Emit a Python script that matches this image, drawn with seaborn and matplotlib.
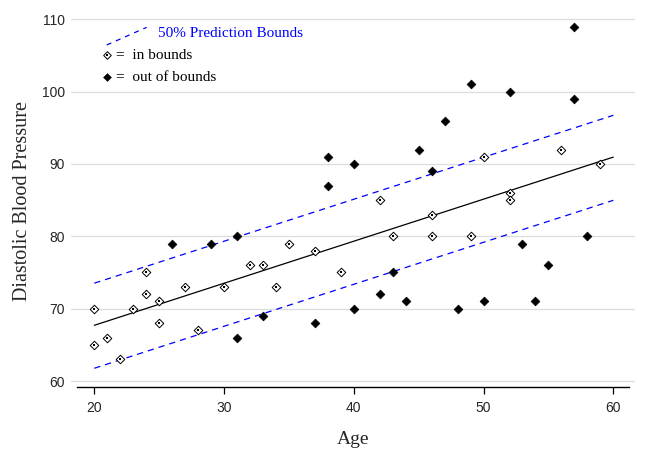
import numpy as np
import pandas as pd
import matplotlib
matplotlib.use("Agg")
import matplotlib.pyplot as plt
import seaborn as sns

# ---- data ----
in_age = [20, 20, 21, 22, 23, 24, 24, 25, 25, 27, 28, 30, 32, 33, 34, 35, 37, 39,
          42, 43, 46, 46, 49, 50, 52, 52, 56, 59]
in_bp = [70, 65, 66, 63, 70, 75, 72, 71, 68, 73, 67, 73, 76, 76, 73, 79, 78, 75,
         85, 80, 80, 83, 80, 91, 86, 85, 92, 90]
out_age = [26, 29, 31, 31, 33, 37, 38, 38, 40, 40, 42, 43, 44, 45, 46, 47, 48, 49,
           50, 52, 53, 54, 55, 57, 57, 58]
out_bp = [79, 79, 80, 66, 69, 68, 91, 87, 90, 70, 72, 75, 71, 92, 89, 96, 70, 101,
          71, 100, 79, 71, 76, 109, 99, 80]
fit_age = [20, 60]
fit_bp = [67.7, 90.95]
upper_bp = [73.52, 96.73]
lower_bp = [61.76, 84.98]
x_ticks = [20, 30, 40, 50, 60]
y_ticks = [60, 70, 80, 90, 100, 110]

sns.set_style("white")
plt.rcParams['font.family'] = ['Liberation Serif', 'DejaVu Serif']

fig = plt.figure(figsize=(6.47, 4.54), dpi=100)
ax = fig.add_axes([71/647, 67/454, 564/647, 372/454])

df_in = pd.DataFrame({"Age": in_age, "BP": in_bp})
df_out = pd.DataFrame({"Age": out_age, "BP": out_bp})
df_fit = pd.DataFrame({"Age": fit_age, "fit": fit_bp, "up": upper_bp, "lo": lower_bp})

# horizontal grid
for yv in y_ticks:
    ax.axhline(yv, color='#dcdcdc', lw=0.9, zorder=0)

sns.lineplot(data=df_fit, x="Age", y="up", ax=ax, color='#0000ff', lw=0.9,
             linestyle=(0, (5, 4)), zorder=2)
sns.lineplot(data=df_fit, x="Age", y="lo", ax=ax, color='#0000ff', lw=0.9,
             linestyle=(0, (5, 4)), zorder=2)
sns.lineplot(data=df_fit, x="Age", y="fit", ax=ax, color='black', lw=0.9, zorder=2)

sns.scatterplot(data=df_in, x="Age", y="BP", ax=ax, marker='D', s=19,
                facecolor='white', edgecolor='black', linewidth=0.7, zorder=3)
sns.scatterplot(data=df_in, x="Age", y="BP", ax=ax, marker='s', s=0.8,
                color='black', linewidth=0, zorder=4)
sns.scatterplot(data=df_out, x="Age", y="BP", ax=ax, marker='D', s=20,
                color='black', edgecolor='black', linewidth=0.5, zorder=3)

ax.set_xlim(18.204, 61.672)
ax.set_ylim(59.171, 110.594)
ax.set_xticks(x_ticks)
ax.set_yticks(y_ticks)
ax.set_xticklabels([str(v) for v in x_ticks])
ax.set_yticklabels([str(v) for v in y_ticks])
for lab in ax.get_xticklabels() + ax.get_yticklabels():
    lab.set_family(['Liberation Sans', 'DejaVu Sans'])
    lab.set_fontsize(10)
ax.tick_params(axis='x', direction='out', length=5, width=0.9, color='black', pad=5,
               bottom=True)
ax.tick_params(axis='y', length=0, pad=4.5)

for side in ['top', 'right', 'left']:
    ax.spines[side].set_visible(False)
ax.spines['bottom'].set_color('black')
ax.spines['bottom'].set_linewidth(1.0)
ax.spines['bottom'].set_bounds(18.667, 61.21)

ax.set_xlabel("Age", fontsize=14)
ax.set_ylabel("Diastolic Blood Pressure", fontsize=14.5)
ax.xaxis.set_label_coords(0.5, (387 - 439) / 372)
ax.xaxis.label.set_va('center')
ax.yaxis.set_label_coords((23 - 71) / 564, 0.5)
ax.yaxis.label.set_va('center')

# legend drawn in axes coordinates
ax.plot([0.0633, 0.1342], [0.9194, 0.9669], transform=ax.transAxes,
        color='#0000ff', lw=0.9, linestyle=(0, (4, 4)))
ax.text(0.1548, 0.9516, "50% Prediction Bounds", transform=ax.transAxes,
        color='#0000ff', fontsize=11, va='center', ha='left')
ax.scatter([0.0644], [0.8917], transform=ax.transAxes, marker='D', s=15,
           facecolor='white', edgecolor='black', linewidth=0.7, zorder=5)
ax.scatter([0.0644], [0.8917], transform=ax.transAxes, marker='s', s=0.7,
           color='black', linewidth=0, zorder=6)
ax.text(0.0798, 0.8917, "=  in bounds", transform=ax.transAxes,
        color='black', fontsize=11, va='center', ha='left')
ax.scatter([0.0644], [0.8325], transform=ax.transAxes, marker='D', s=16,
           color='black', linewidth=0.4, zorder=5)
ax.text(0.0798, 0.8325, "=  out of bounds", transform=ax.transAxes,
        color='black', fontsize=11, va='center', ha='left')

fig.savefig("out.png", dpi=100)
